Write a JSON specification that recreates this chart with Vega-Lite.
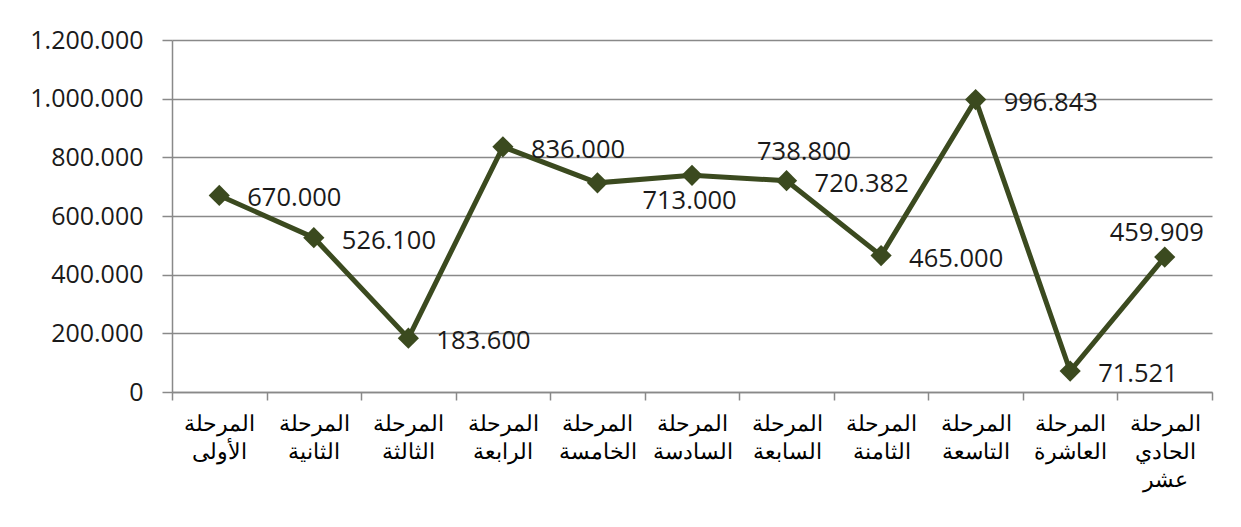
{
  "$schema": "https://vega.github.io/schema/vega-lite/v6.json",
  "width": 1040,
  "height": 352,
  "autosize": {"type": "none"},
  "padding": {"left": 172, "top": 40, "right": 29, "bottom": 135},
  "background": "white",
  "config": {
    "locale": {"number": {"decimal": ",", "thousands": ".", "grouping": [3], "currency": ["", ""]}},
    "view": {"stroke": null}
  },
  "data": {
    "values": [
      {"stage": "المرحلة الأولى", "value": 670000},
      {"stage": "المرحلة الثانية", "value": 526100},
      {"stage": "المرحلة الثالثة", "value": 183600},
      {"stage": "المرحلة الرابعة", "value": 836000},
      {"stage": "المرحلة الخامسة", "value": 713000},
      {"stage": "المرحلة السادسة", "value": 738800},
      {"stage": "المرحلة السابعة", "value": 720382},
      {"stage": "المرحلة الثامنة", "value": 465000},
      {"stage": "المرحلة التاسعة", "value": 996843},
      {"stage": "المرحلة العاشرة", "value": 71521},
      {"stage": "المرحلة الحادي عشر", "value": 459909}
    ]
  },
  "encoding": {
    "x": {
      "field": "stage",
      "type": "nominal",
      "sort": null,
      "scale": {"type": "band", "paddingInner": 0, "paddingOuter": 0},
      "axis": {
        "title": null,
        "labelAngle": 0,
        "labelExpr": "split(datum.label, ' ')",
        "labelFont": "Liberation Sans",
        "labelFontSize": 22,
        "labelLineHeight": 28,
        "labelColor": "#000000",
        "labelPadding": 13,
        "tickBand": "extent",
        "tickSize": 8,
        "tickColor": "#898989",
        "tickWidth": 1.5,
        "domainColor": "#898989",
        "domainWidth": 1.5,
        "grid": false
      }
    },
    "y": {
      "field": "value",
      "type": "quantitative",
      "scale": {"domain": [0, 1200000]},
      "axis": {
        "title": null,
        "values": [0, 200000, 400000, 600000, 800000, 1000000, 1200000],
        "format": ",d",
        "labelFont": "Open Sans",
        "labelFontSize": 25,
        "labelColor": "#1a1a1a",
        "labelPadding": 19,
        "tickSize": 10,
        "tickColor": "#898989",
        "tickWidth": 1.5,
        "domainColor": "#898989",
        "domainWidth": 1.5,
        "grid": true,
        "gridColor": "#898989",
        "gridWidth": 1.5
      }
    }
  },
  "layer": [
    {"mark": {"type": "line", "color": "#3b4a1f", "strokeWidth": 5}},
    {"mark": {"type": "point", "shape": "diamond", "filled": true, "size": 450, "color": "#3b4a1f", "opacity": 1}},
    {
      "transform": [{"filter": {"field": "stage", "oneOf": ["المرحلة الأولى", "المرحلة الثانية", "المرحلة الثالثة", "المرحلة الرابعة", "المرحلة السابعة", "المرحلة الثامنة", "المرحلة التاسعة", "المرحلة العاشرة"]}}],
      "mark": {"type": "text", "align": "left", "baseline": "middle", "dx": 28, "dy": 3, "font": "Open Sans", "fontSize": 25.5, "color": "#1a1a1a"},
      "encoding": {"text": {"field": "value", "type": "quantitative", "format": ",d"}}
    },
    {
      "transform": [{"filter": {"field": "stage", "equal": "المرحلة الخامسة"}}],
      "mark": {"type": "text", "align": "left", "baseline": "middle", "dx": 45, "dy": 18, "font": "Open Sans", "fontSize": 25.5, "color": "#1a1a1a"},
      "encoding": {"text": {"field": "value", "type": "quantitative", "format": ",d"}}
    },
    {
      "transform": [{"filter": {"field": "stage", "equal": "المرحلة السادسة"}}],
      "mark": {"type": "text", "align": "left", "baseline": "middle", "dx": 65, "dy": -23, "font": "Open Sans", "fontSize": 25.5, "color": "#1a1a1a"},
      "encoding": {"text": {"field": "value", "type": "quantitative", "format": ",d"}}
    },
    {
      "transform": [{"filter": {"field": "stage", "equal": "المرحلة الحادي عشر"}}],
      "mark": {"type": "text", "align": "center", "baseline": "middle", "dx": -8, "dy": -24, "font": "Open Sans", "fontSize": 25.5, "color": "#1a1a1a"},
      "encoding": {"text": {"field": "value", "type": "quantitative", "format": ",d"}}
    }
  ]
}
